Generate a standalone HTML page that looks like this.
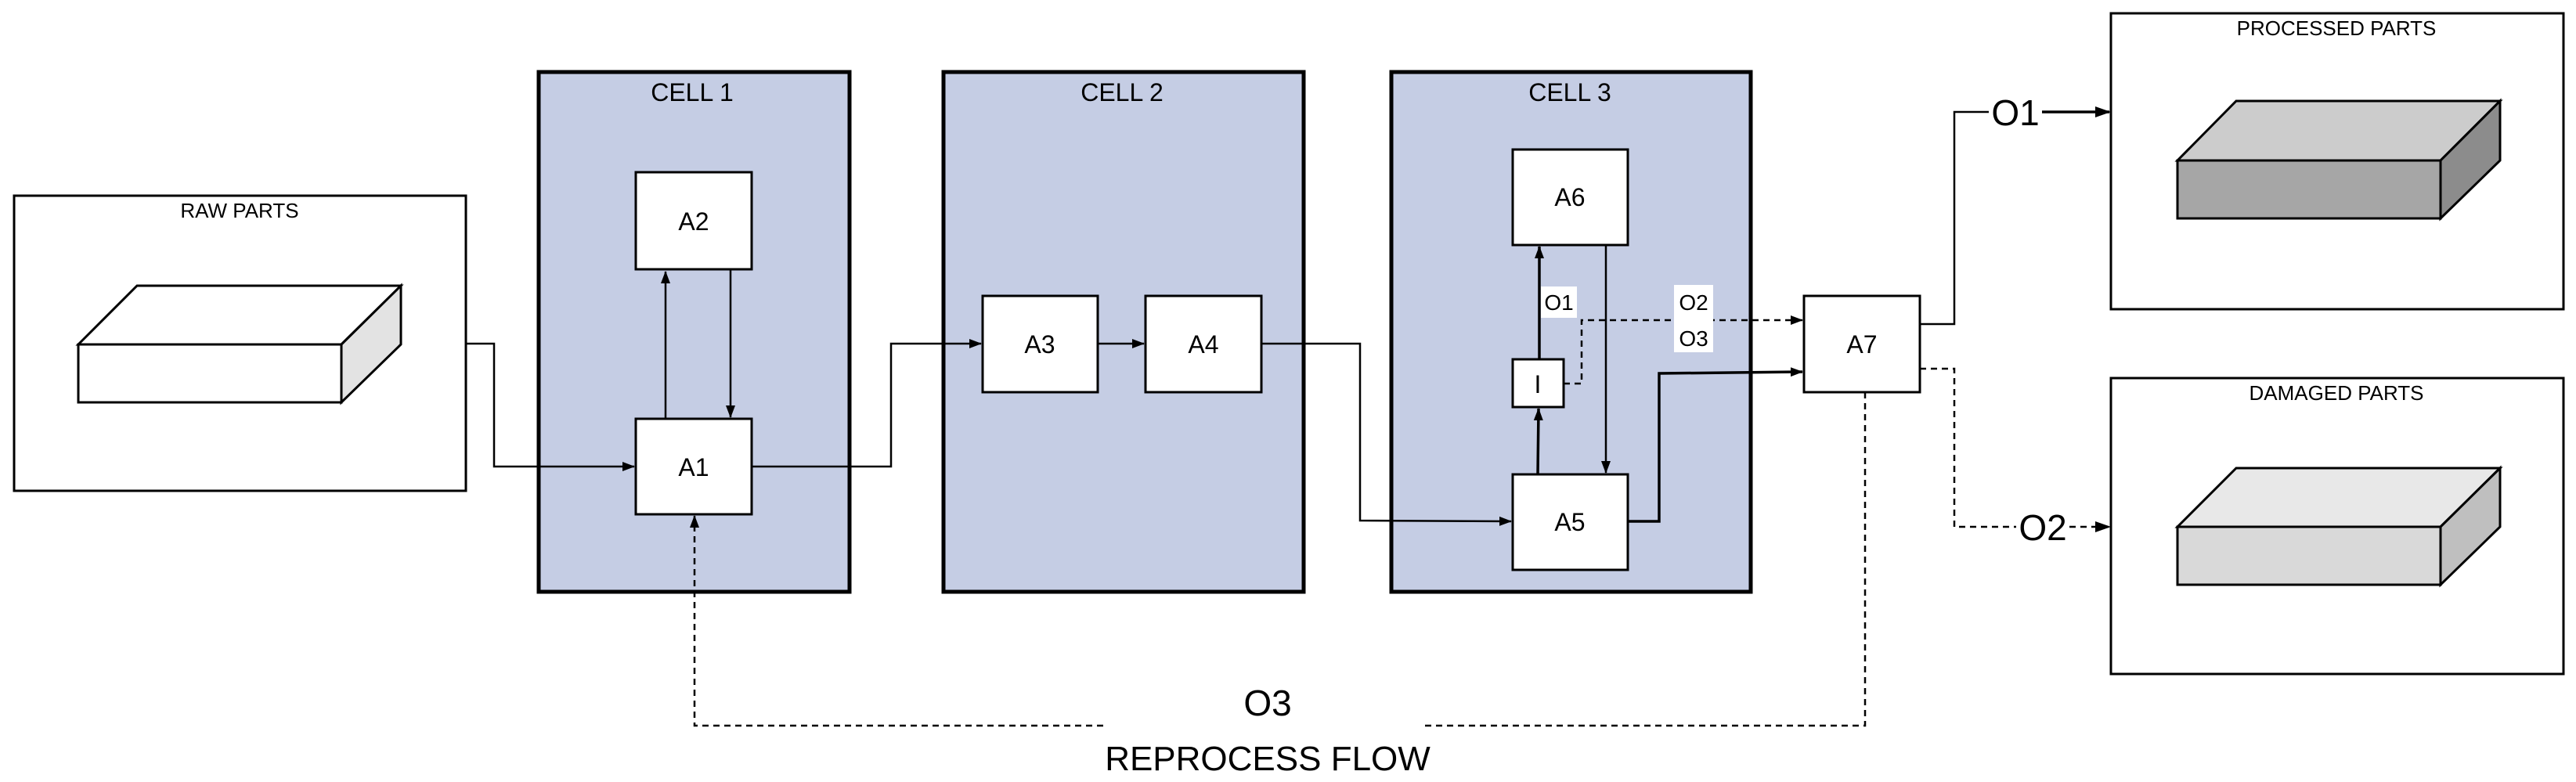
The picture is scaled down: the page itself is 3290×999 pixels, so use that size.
<!DOCTYPE html>
<html><head><meta charset="utf-8"><style>
html,body{margin:0;padding:0;background:#fff}
svg{display:block}
text{font-family:"Liberation Sans",sans-serif;fill:#000}
</style></head><body>
<svg width="3290" height="999" viewBox="0 0 3290 999" xmlns="http://www.w3.org/2000/svg">
<defs>
<marker id="ah" markerWidth="16" markerHeight="16" refX="15" refY="8" orient="auto" markerUnits="userSpaceOnUse" viewBox="0 0 16 16">
<path d="M0,2 L16,8 L0,14 z" fill="#000"/></marker>
<marker id="ahb" markerWidth="20" markerHeight="20" refX="18" refY="10" orient="auto" markerUnits="userSpaceOnUse" viewBox="0 0 20 20">
<path d="M0,3 L20,10 L0,17 z" fill="#000"/></marker>
</defs>
<g stroke="#000" stroke-width="3">
<rect x="688" y="92" width="397" height="664" fill="#c5cde4" stroke-width="5"/>
<rect x="1205" y="92" width="460" height="664" fill="#c5cde4" stroke-width="5"/>
<rect x="1777" y="92" width="459" height="664" fill="#c5cde4" stroke-width="5"/>
<rect x="18" y="250" width="577" height="377" fill="#fff"/>
<rect x="2696" y="17" width="578" height="378" fill="#fff"/>
<rect x="2696" y="483" width="578" height="378" fill="#fff"/>
<polygon points="100,440 175,365 512,365 436,440" fill="#fff"/>
<polygon points="436,440 512,365 512,440 436,514" fill="#e3e3e3"/>
<rect x="100" y="440" width="336" height="74" fill="#fff"/>
<polygon points="2781,205 2856,129 3193,129 3117,205" fill="#cccccc"/>
<polygon points="3117,205 3193,129 3193,205 3117,279" fill="#8c8c8c"/>
<rect x="2781" y="205" width="336" height="74" fill="#a6a6a6"/>
<polygon points="2781,673 2856,598 3193,598 3117,673" fill="#e8e8e8"/>
<polygon points="3117,673 3193,598 3193,673 3117,747" fill="#bfbfbf"/>
<rect x="2781" y="673" width="336" height="74" fill="#d9d9d9"/>
<rect x="812" y="220" width="148" height="124" fill="#fff"/>
<rect x="812" y="535" width="148" height="122" fill="#fff"/>
<rect x="1255" y="378" width="147" height="123" fill="#fff"/>
<rect x="1463" y="378" width="148" height="123" fill="#fff"/>
<rect x="1932" y="191" width="147" height="122" fill="#fff"/>
<rect x="1932" y="459" width="65" height="61" fill="#fff"/>
<rect x="1932" y="606" width="147" height="122" fill="#fff"/>
<rect x="2304" y="378" width="148" height="123" fill="#fff"/>
</g>
<g stroke="#000" stroke-width="2.5" fill="none">
<polyline points="595,439 631,439 631,596 810,596" marker-end="url(#ah)"/>
<line x1="850" y1="535" x2="850" y2="347" marker-end="url(#ah)"/>
<line x1="933" y1="344" x2="933" y2="533" marker-end="url(#ah)"/>
<polyline points="960,596 1138,596 1138,439 1253,439" marker-end="url(#ah)"/>
<line x1="1402" y1="439" x2="1461" y2="439" marker-end="url(#ah)"/>
<polyline points="1611,439 1737,439 1737,665 1930,666" marker-end="url(#ah)"/>
<line x1="1964" y1="606" x2="1965" y2="522" stroke-width="3.5" marker-end="url(#ah)"/>
<line x1="1966" y1="459" x2="1966" y2="315" stroke-width="3.5" marker-end="url(#ah)"/>
<line x1="2051" y1="313" x2="2051" y2="604" marker-end="url(#ah)"/>
<polyline points="2079,666 2119,666 2119,477 2302,475" stroke-width="3.5" marker-end="url(#ah)"/>
<polyline points="1997,490 2020,490 2020,409 2302,409" stroke-dasharray="8,6" marker-end="url(#ah)"/>
<polyline points="2452,414 2496,414 2496,143 2540,143"/>
<line x1="2608" y1="143" x2="2694" y2="143" stroke-width="3.5" marker-end="url(#ahb)"/>
<polyline points="2452,471 2496,471 2496,673 2575,673" stroke-dasharray="8,6"/>
<line x1="2643" y1="673" x2="2694" y2="673" stroke-dasharray="8,6" marker-end="url(#ahb)"/>
<polyline points="1409,927 887,927 887,659" stroke-dasharray="8,6" marker-end="url(#ah)"/>
<polyline points="1820,927 2382,927 2382,501" stroke-dasharray="8,6"/>
</g>
<rect x="1968" y="366" width="46" height="40" fill="#fff"/>
<rect x="2138" y="364" width="50" height="86" fill="#fff"/>
<g text-anchor="middle">
<text x="884" y="129" font-size="32">CELL 1</text>
<text x="1433" y="129" font-size="32">CELL 2</text>
<text x="2005" y="129" font-size="32">CELL 3</text>
<text x="306" y="278" font-size="26">RAW PARTS</text>
<text x="2984" y="45" font-size="26">PROCESSED PARTS</text>
<text x="2984" y="511" font-size="26">DAMAGED PARTS</text>
<text x="886" y="294" font-size="32">A2</text>
<text x="886" y="608" font-size="32">A1</text>
<text x="1328" y="451" font-size="32">A3</text>
<text x="1537" y="451" font-size="32">A4</text>
<text x="2005" y="263" font-size="32">A6</text>
<text x="2005" y="678" font-size="32">A5</text>
<text x="1964" y="502" font-size="32">I</text>
<text x="2378" y="451" font-size="32">A7</text>
<text x="1991" y="396" font-size="28">O1</text>
<text x="2163" y="396" font-size="28">O2</text>
<text x="2163" y="442" font-size="28">O3</text>
<text x="2574" y="160" font-size="46">O1</text>
<text x="2609" y="690" font-size="46">O2</text>
<text x="1619" y="914" font-size="46">O3</text>
<text x="1619" y="984" font-size="44">REPROCESS FLOW</text>
</g>
</svg>
</body></html>
